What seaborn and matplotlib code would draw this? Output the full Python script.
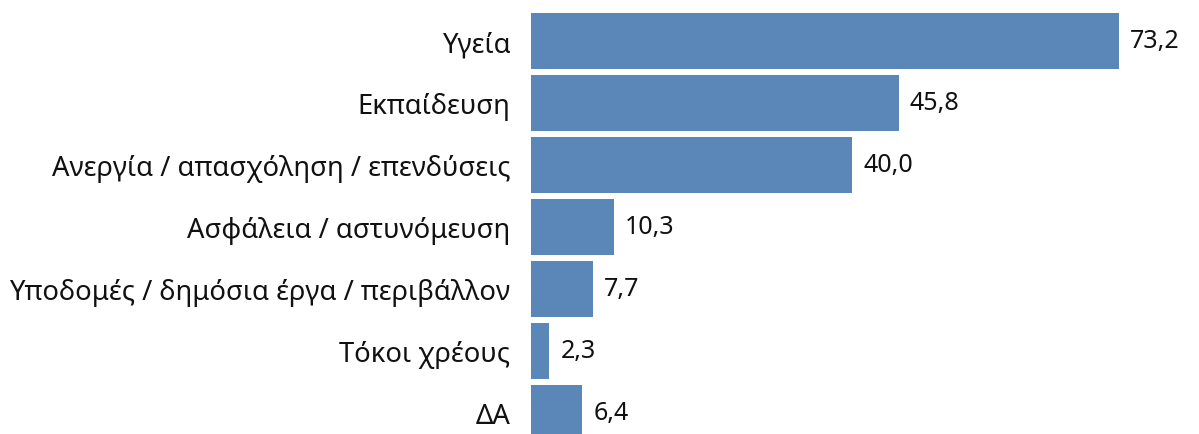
import matplotlib
matplotlib.use("Agg")
import matplotlib.pyplot as plt
import seaborn as sns
import pandas as pd

# data
categories = ["Υγεία", "Εκπαίδευση", "Ανεργία / απασχόληση / επενδύσεις",
              "Ασφάλεια / αστυνόμευση", "Υποδομές / δημόσια έργα / περιβάλλον",
              "Τόκοι χρέους", "ΔΑ"]
values = [73.2, 45.8, 40.0, 10.3, 7.7, 2.3, 6.4]

df = pd.DataFrame({"category": categories, "value": values})

sns.set_theme(style="white")
plt.rcParams['font.family'] = ['Noto Sans', 'DejaVu Sans']

fig = plt.figure(figsize=(11.99, 4.35), dpi=100)
ax = fig.add_axes([531 / 1199, 0, 1 - 531 / 1199, 1])

sns.barplot(data=df, x="value", y="category", orient="h", color="#5b86b8",
            saturation=1, width=0.9, linewidth=0, ax=ax)

ax.set_xlim(0, 83.2)
ax.set_ylim(6.339, -0.677)

labels = [f"{v:.1f}".replace(".", ",") for v in values]
ax.bar_label(ax.containers[0], labels=labels, padding=8, fontsize=18, color="#111111")

ax.set_xlabel("")
ax.set_ylabel("")
ax.set_xticks([])
ax.tick_params(axis="y", length=0, pad=15, labelsize=19.7, labelcolor="#111111")
sns.despine(ax=ax, left=True, bottom=True)

fig.savefig("out.png", dpi=100)
